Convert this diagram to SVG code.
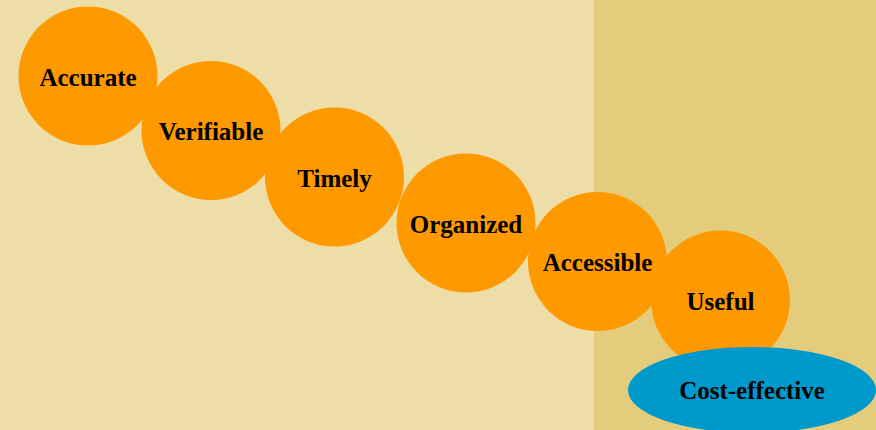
<svg xmlns="http://www.w3.org/2000/svg" width="876" height="430" viewBox="0 0 876 430">
<style>
.c{fill:#FF9900}
.e{fill:#0099CC}
.t{font-family:"Liberation Serif","Times New Roman",serif;font-weight:bold;font-size:25px;fill:#000;text-anchor:middle}
</style>
<rect x="0" y="0" width="594" height="430" fill="#EDDEA8"/>
<rect x="594" y="0" width="282" height="430" fill="#E3CD7C"/>
<g id="connectors"></g>
<g id="accurate"><circle class="c" cx="88" cy="76" r="69.5"/><text class="t" x="88" y="86">Accurate</text></g>
<g id="verifiable"><circle class="c" cx="211" cy="130.5" r="69.5"/><text class="t" x="211" y="140">Verifiable</text></g>
<g id="timely"><circle class="c" cx="334.5" cy="177" r="69.5"/><text class="t" x="334.5" y="187">Timely</text></g>
<g id="organized"><circle class="c" cx="466" cy="223" r="69.5"/><text class="t" x="466" y="233">Organized</text></g>
<g id="accessible"><circle class="c" cx="597.5" cy="261.5" r="69.5"/><text class="t" x="597.5" y="271">Accessible</text></g>
<g id="useful"><circle class="c" cx="720.5" cy="300" r="69.5"/><text class="t" x="720.5" y="310">Useful</text></g>
<g id="cost-effective"><ellipse class="e" cx="752" cy="390" rx="124" ry="43"/><text class="t" x="752" y="399">Cost-effective</text></g>
</svg>
